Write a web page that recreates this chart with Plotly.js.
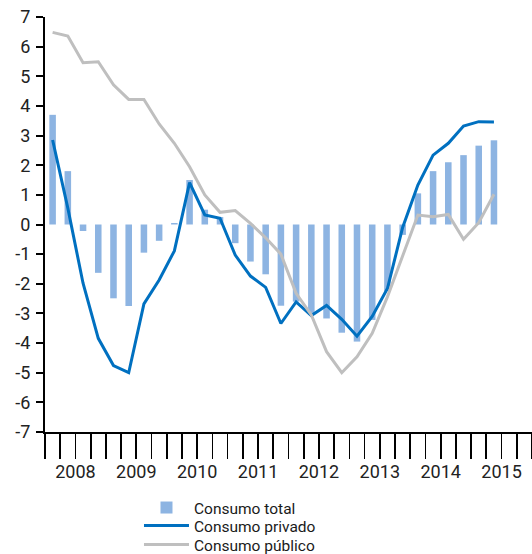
<!DOCTYPE html>
<html>
<head>
<meta charset="utf-8">
<script src="https://cdn.plot.ly/plotly-3.0.1.min.js"></script>
<style>
  html, body { margin: 0; padding: 0; background: #fff; }
  #chart { width: 532px; height: 554px; }
</style>
</head>
<body>
<div id="chart"></div>
<script>
// Categories: quarters 2008T1 .. 2015T2 (axis spans 2008-2015, 32 quarters)
const years = ['2008','2009','2010','2011','2012','2013','2014','2015'];
const quarters = [
  '2008T1','2008T2','2008T3','2008T4',
  '2009T1','2009T2','2009T3','2009T4',
  '2010T1','2010T2','2010T3','2010T4',
  '2011T1','2011T2','2011T3','2011T4',
  '2012T1','2012T2','2012T3','2012T4',
  '2013T1','2013T2','2013T3','2013T4',
  '2014T1','2014T2','2014T3','2014T4',
  '2015T1','2015T2'
];

// Series values (% interanual)
const consumoTotal = [3.7, 1.8, -0.22, -1.63, -2.49, -2.75, -0.95, -0.55,
  0.05, 1.5, 0.5, 0.25, -0.63, -1.25, -1.68, -2.74,
  -2.6, -3.05, -3.17, -3.65, -3.95, -3.22, -2.25, -0.35,
  1.05, 1.8, 2.1, 2.34, 2.66, 2.84];
const consumoPrivado = [2.85, 0.55, -1.98, -3.84, -4.76, -5.0, -2.68, -1.87,
  -0.89, 1.41, 0.32, 0.21, -1.03, -1.74, -2.12, -3.34,
  -2.61, -3.07, -2.73, -3.2, -3.77, -3.1, -2.16, -0.1,
  1.33, 2.34, 2.74, 3.32, 3.47, 3.46];
const consumoPublico = [6.48, 6.36, 5.46, 5.49, 4.71, 4.22, 4.22, 3.39,
  2.74, 1.95, 1.0, 0.41, 0.47, 0.04, -0.45, -1.0,
  -2.32, -3.05, -4.29, -5.0, -4.46, -3.67, -2.44, -1.09,
  0.32, 0.26, 0.34, -0.5, 0.06, 1.02];

// y tick labels (plain hyphen minus, as in the reference)
const yTickVals = [7, 6, 5, 4, 3, 2, 1, 0, -1, -2, -3, -4, -5, -6, -7];
const yTickText = yTickVals.map(v => String(v));

const seriesNames = ['Consumo total', 'Consumo privado', 'Consumo público'];

// quarter index -> position on the (quarterly) linear axis, centered in its slot
const qx = quarters.map((q, i) => i + 0.5);
const nQuarters = years.length * 4;
const yearBounds = years.map((y, i) => i * 4).concat([nQuarters]);
const yearCenters = years.map((y, i) => i * 4 + 2);

const FONT = 'Roboto, "Open Sans", sans-serif';

const traces = [
  {
    type: 'bar', name: seriesNames[0], x: qx, y: consumoTotal,
    marker: { color: '#8DB4E2', line: { width: 0 } },
    xaxis: 'x', yaxis: 'y', hoverinfo: 'y', legend: 'legend'
  },
  {
    type: 'scatter', mode: 'lines', name: seriesNames[1], x: qx, y: consumoPrivado,
    line: { color: '#0070C0', width: 3 },
    xaxis: 'x', yaxis: 'y', legend: 'legend2'
  },
  {
    type: 'scatter', mode: 'lines', name: seriesNames[2], x: qx, y: consumoPublico,
    line: { color: '#BFBFBF', width: 3 },
    xaxis: 'x', yaxis: 'y', legend: 'legend3'
  },
  // invisible helper trace to activate the year-label axis
  {
    type: 'scatter', mode: 'markers', x: yearCenters, y: yearCenters.map(() => null),
    xaxis: 'x2', yaxis: 'y', showlegend: false, hoverinfo: 'skip'
  }
];

const legendBase = {
  orientation: 'v', xanchor: 'left', yanchor: 'middle', x: 0.193,
  font: { family: FONT, size: 15.5, color: '#1a1a1a' },
  bgcolor: 'rgba(0,0,0,0)', borderwidth: 0,
  itemwidth: 45, tracegroupgap: 0
};

const layout = {
  width: 532, height: 554,
  margin: { l: 45, r: 0, t: 17, b: 122, pad: 0, autoexpand: false },
  paper_bgcolor: '#fff', plot_bgcolor: '#fff',
  font: { family: FONT, size: 18, color: '#222' },
  bargap: 0.57,
  showlegend: true,
  xaxis: {
    type: 'linear', range: [0, nQuarters], fixedrange: true, automargin: false,
    showgrid: false, zeroline: false,
    showline: true, linecolor: '#000', linewidth: 2,
    tickmode: 'array', tickvals: yearBounds, ticktext: yearBounds.map(() => ''),
    ticks: 'outside', ticklen: 53, tickwidth: 1.7, tickcolor: '#000',
    showticklabels: false,
    minor: { dtick: 1, tick0: 0, ticks: 'outside', ticklen: 25, tickwidth: 1.7, tickcolor: '#000', showgrid: false }
  },
  xaxis2: {
    type: 'linear', range: [0, nQuarters], overlaying: 'x', anchor: 'y', side: 'bottom',
    fixedrange: true, automargin: false, showgrid: false, zeroline: false, showline: false,
    tickmode: 'array', tickvals: yearCenters, ticktext: years, tickangle: 0,
    ticks: '', ticklabelstandoff: 27,
    tickfont: { family: FONT, size: 18, color: '#222' }
  },
  yaxis: {
    range: [-7, 7], fixedrange: true, automargin: false,
    tickmode: 'array', tickvals: yTickVals, ticktext: yTickText,
    showgrid: false, zeroline: false,
    showline: true, linecolor: '#000', linewidth: 2,
    ticks: 'outside', ticklen: 7, tickwidth: 2, tickcolor: '#000',
    ticklabelstandoff: 2,
    tickfont: { family: FONT, size: 18, color: '#222' }
  },
  legend: Object.assign({}, legendBase, { y: -0.183 }),
  legend2: Object.assign({}, legendBase, { y: -0.2265 }),
  legend3: Object.assign({}, legendBase, { y: -0.2723 })
};

Plotly.newPlot('chart', traces, layout, { displayModeBar: false, staticPlot: true });
</script>
</body>
</html>
